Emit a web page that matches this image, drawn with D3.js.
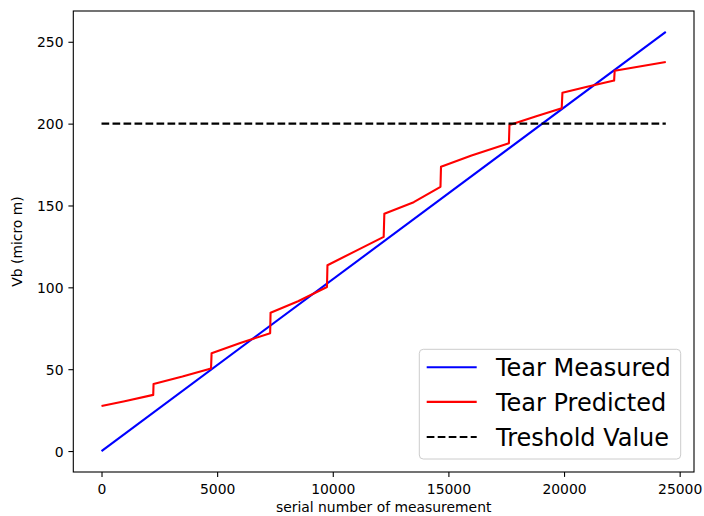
<!DOCTYPE html>
<html><head><meta charset="utf-8">
<script src="https://cdn.jsdelivr.net/npm/d3@7"></script>
<style>body{margin:0;background:#fff}svg{display:block}text{font-family:"DejaVu Sans",sans-serif}</style>
</head><body>
<svg id="c" width="704" height="516"></svg>
<script>
// ---- data ----
const measuredX = [0, 24400];
const measuredY = [0, 256];
const predictedX = [0, 1000, 2236, 2250, 3500, 4736, 4760, 6000, 7292, 7310, 8500, 9749, 9770, 11000, 12201, 12230, 13500, 14657, 14680, 16000, 17617, 17640, 18800, 19900, 19930, 21000, 22166, 22190, 24400];
const predictedY = [27.5, 30.4, 34.3, 41, 45.5, 50.4, 59.8, 66, 72, 84.5, 91.5, 100.2, 113.5, 122.3, 130.8, 145, 152, 161.4, 173.7, 180.5, 188, 199.2, 204.5, 209.4, 218.8, 222.5, 226.3, 232.3, 237.6];
const thresholdX = [0, 24400];
const thresholdY = [200, 200];
const xTicks = [0, 5000, 10000, 15000, 20000, 25000];
const yTicks = [0, 50, 100, 150, 200, 250];
const seriesNames = ["Tear Measured", "Tear Predicted", "Treshold Value"];
const xLabel = "serial number of measurement";
const yLabel = "Vb (micro m)";

// ---- layout ----
const L = 73.3, R = 694, T = 11, B = 472;
const svg = d3.select("#c");
const xMax = 24400, yMin = 0, yMax = 256;
const x = d3.scaleLinear().domain([-0.05 * xMax, 1.05 * xMax]).range([L, R]);
const yr = yMax - yMin;
const y = d3.scaleLinear().domain([yMin - 0.05 * yr, yMax + 0.05 * yr]).range([B, T]);

const line = d3.line().x(d => x(d[0])).y(d => y(d[1]));
const zip = (a, b) => a.map((v, i) => [v, b[i]]);

const g = svg.append("g");
const series = [
  {pts: zip(measuredX, measuredY), color: "#0000ff", dash: null},
  {pts: zip(predictedX, predictedY), color: "#ff0000", dash: null},
  {pts: zip(thresholdX, thresholdY), color: "#000000", dash: "7.7,3.3"}
];
series.forEach(s => {
  g.append("path").attr("d", line(s.pts)).attr("fill", "none")
    .attr("stroke", s.color).attr("stroke-width", 2.1)
    .attr("stroke-dasharray", s.dash).attr("stroke-linejoin", "round");
});

// frame
svg.append("rect").attr("x", L).attr("y", T).attr("width", R - L).attr("height", B - T)
  .attr("fill", "none").attr("stroke", "#000").attr("stroke-width", 1.1);

// axes
const xa = svg.append("g").attr("transform", `translate(0,${B})`)
  .call(d3.axisBottom(x).tickValues(xTicks).tickSize(4.9).tickPadding(4.9).tickFormat(d3.format("d")));
const ya = svg.append("g").attr("transform", `translate(${L},0)`)
  .call(d3.axisLeft(y).tickValues(yTicks).tickSize(4.9).tickPadding(4.9).tickFormat(d3.format("d")));
[xa, ya].forEach(a => {
  a.select(".domain").remove();
  a.selectAll(".tick line").attr("stroke", "#000").attr("stroke-width", 1.1);
  a.selectAll(".tick text").attr("fill", "#000").style("font-size", "13.9px")
    .style("font-family", '"DejaVu Sans", sans-serif');
});
xa.selectAll(".tick text").attr("dy", null).attr("y", 21.5);
ya.selectAll(".tick text").attr("dy", null).attr("y", 5);

svg.append("text").attr("x", (L + R) / 2).attr("y", 512).attr("text-anchor", "middle")
  .style("font-size", "13.9px").text(xLabel);
svg.append("text").attr("transform", `translate(22,${(T + B) / 2}) rotate(-90)`)
  .attr("text-anchor", "middle").style("font-size", "13.9px").text(yLabel);

// legend
const lg = svg.append("g");
lg.append("rect").attr("x", 419.3).attr("y", 349.3).attr("width", 261.4).attr("height", 109.7)
  .attr("rx", 4).attr("fill", "#fff").attr("fill-opacity", 0.8)
  .attr("stroke", "#cccccc").attr("stroke-width", 1);
const rowY = [367.3, 401.9, 437.0];
series.forEach((s, i) => {
  lg.append("line").attr("x1", 426.7).attr("x2", 476.7).attr("y1", rowY[i]).attr("y2", rowY[i])
    .attr("stroke", s.color).attr("stroke-width", 2.1).attr("stroke-dasharray", s.dash);
  lg.append("text").attr("x", 496).attr("y", rowY[i] + 8.7).style("font-size", "24px")
    .attr("fill", "#000").text(seriesNames[i]);
});
</script>
</body></html>
